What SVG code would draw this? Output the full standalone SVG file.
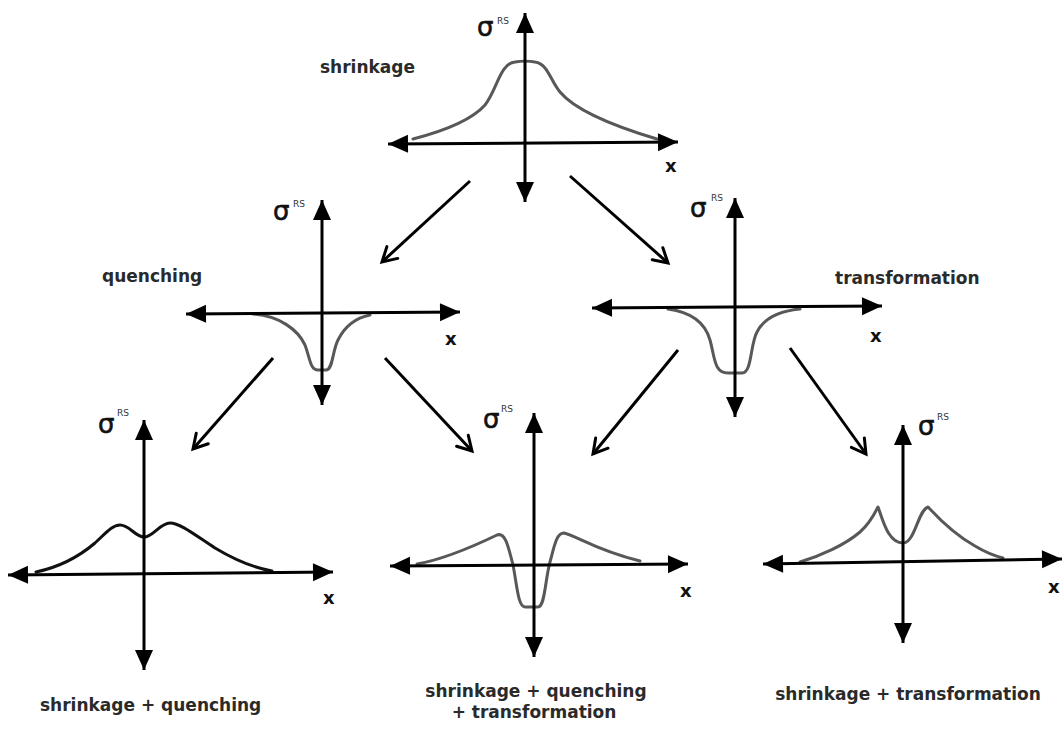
<svg xmlns="http://www.w3.org/2000/svg" width="1062" height="729" viewBox="0 0 1062 729">
<style>
.bg{fill:#ffffff}
.axis{stroke:#000;stroke-width:3;fill:none;marker-start:url(#ah);marker-end:url(#ah)}
.curve{fill:none;stroke:#585858;stroke-width:3;stroke-linejoin:round;stroke-linecap:round}
.curve.dark{stroke:#111}
.conn{stroke:#000;stroke-width:3;fill:none;marker-end:url(#open)}
.lbl{font-family:"DejaVu Sans",Verdana,sans-serif;font-weight:bold;font-size:17px;fill:#2a2a2a}
.xl{font-family:"DejaVu Sans",Verdana,sans-serif;font-weight:bold;font-size:18px;fill:#111}
.sig{font-family:"DejaVu Sans",sans-serif;font-size:26px;fill:#111;stroke:#111;stroke-width:0.6}
.rs{font-family:"DejaVu Sans",sans-serif;font-size:9px;fill:#333}
</style>
<defs>
<marker id="ah" markerUnits="userSpaceOnUse" markerWidth="22" markerHeight="20" refX="20" refY="9" orient="auto-start-reverse" overflow="visible">
<path d="M0,0 L20,9 L0,18 Z" fill="#000"/>
</marker>
<marker id="open" markerUnits="userSpaceOnUse" markerWidth="18" markerHeight="18" refX="15" refY="8" orient="auto" overflow="visible">
<path d="M1,0 L15,8 L1,16" fill="none" stroke="#000" stroke-width="3" stroke-linecap="round"/>
</marker>
</defs>
<rect class="bg" x="0" y="0" width="1062" height="729"/>

<g id="connectors">
<line class="conn" x1="470" y1="181" x2="382" y2="262"/>
<line class="conn" x1="570" y1="176" x2="668" y2="263"/>
<line class="conn" x1="273" y1="358" x2="193" y2="449"/>
<line class="conn" x1="385" y1="358" x2="472" y2="451"/>
<line class="conn" x1="678" y1="350" x2="593" y2="454"/>
<line class="conn" x1="790" y1="348" x2="866" y2="454"/>
</g>

<g id="shrinkage">
<path class="curve" d="M413,139 C440,132 470,122 485,105 C497,90 500,63 515,62 C520,61 530,61 535,62 C548,64 550,80 560,92 C575,110 610,125 657,139"/>
<line class="axis" x1="388" y1="144" x2="678" y2="142"/>
<line class="axis" x1="525" y1="202" x2="525" y2="13"/>
<text class="sig" x="477" y="36">σ</text>
<text class="rs" x="497" y="24">RS</text>
<text class="xl" x="665" y="172">x</text>
<text class="lbl" x="320" y="73">shrinkage</text>
</g>

<g id="quenching">
<path class="curve" d="M253,314 C280,316 298,330 305,345 C310,358 310,370 318,370 L326,370 C333,370 332,352 338,340 C345,326 355,318 370,315"/>
<line class="axis" x1="186" y1="314" x2="460" y2="312"/>
<line class="axis" x1="322" y1="405" x2="322" y2="200"/>
<text class="sig" x="273" y="220">σ</text>
<text class="rs" x="293" y="207">RS</text>
<text class="xl" x="445" y="345">x</text>
<text class="lbl" x="102" y="282">quenching</text>
</g>

<g id="transformation">
<path class="curve" d="M668,309 C690,312 705,322 710,340 C715,358 714,373 728,373 L742,373 C752,373 750,345 757,332 C764,318 780,311 800,309"/>
<line class="axis" x1="592" y1="308" x2="882" y2="306"/>
<line class="axis" x1="735" y1="417" x2="735" y2="198"/>
<text class="sig" x="690" y="217">σ</text>
<text class="rs" x="711" y="201">RS</text>
<text class="xl" x="870" y="342">x</text>
<text class="lbl" x="835" y="284">transformation</text>
</g>

<g id="shrinkage-quenching">
<path class="curve dark" d="M36,572 C55,568 75,560 95,543 C105,534 112,525 120,525 C130,525 135,537 144,537 C153,537 160,523 170,523 C180,523 195,535 215,548 C235,560 255,568 272,571"/>
<line class="axis" x1="8" y1="575" x2="333" y2="572"/>
<line class="axis" x1="144" y1="670" x2="144" y2="420"/>
<text class="sig" x="98" y="433">σ</text>
<text class="rs" x="117" y="416">RS</text>
<text class="xl" x="323" y="604">x</text>
<text class="lbl" x="40" y="711">shrinkage + quenching</text>
</g>

<g id="shrinkage-quenching-transformation">
<path class="curve" d="M417,564 C440,560 470,548 497,535 C505,532 508,545 513,565 C517,585 518,607 525,607 L538,607 C545,607 545,580 550,562 C554,548 556,533 564,533 C575,535 595,550 640,561"/>
<line class="axis" x1="390" y1="566" x2="688" y2="564"/>
<line class="axis" x1="534" y1="657" x2="534" y2="413"/>
<text class="sig" x="483" y="428">σ</text>
<text class="rs" x="501" y="412">RS</text>
<text class="xl" x="680" y="597">x</text>
<text class="lbl" x="536" y="697" text-anchor="middle">shrinkage + quenching</text>
<text class="lbl" x="534" y="718" text-anchor="middle">+ transformation</text>
</g>

<g id="shrinkage-transformation">
<path class="curve" d="M800,562 C820,556 845,545 860,532 C868,525 874,515 878,507 C883,520 888,543 903,543 C915,543 918,510 928,507 C940,520 955,535 975,546 C985,552 995,556 1003,558"/>
<line class="axis" x1="763" y1="564" x2="1062" y2="559"/>
<line class="axis" x1="903" y1="643" x2="903" y2="425"/>
<text class="sig" x="918" y="435">σ</text>
<text class="rs" x="937" y="420">RS</text>
<text class="xl" x="1048" y="593">x</text>
<text class="lbl" x="908" y="700" text-anchor="middle">shrinkage + transformation</text>
</g>
</svg>
